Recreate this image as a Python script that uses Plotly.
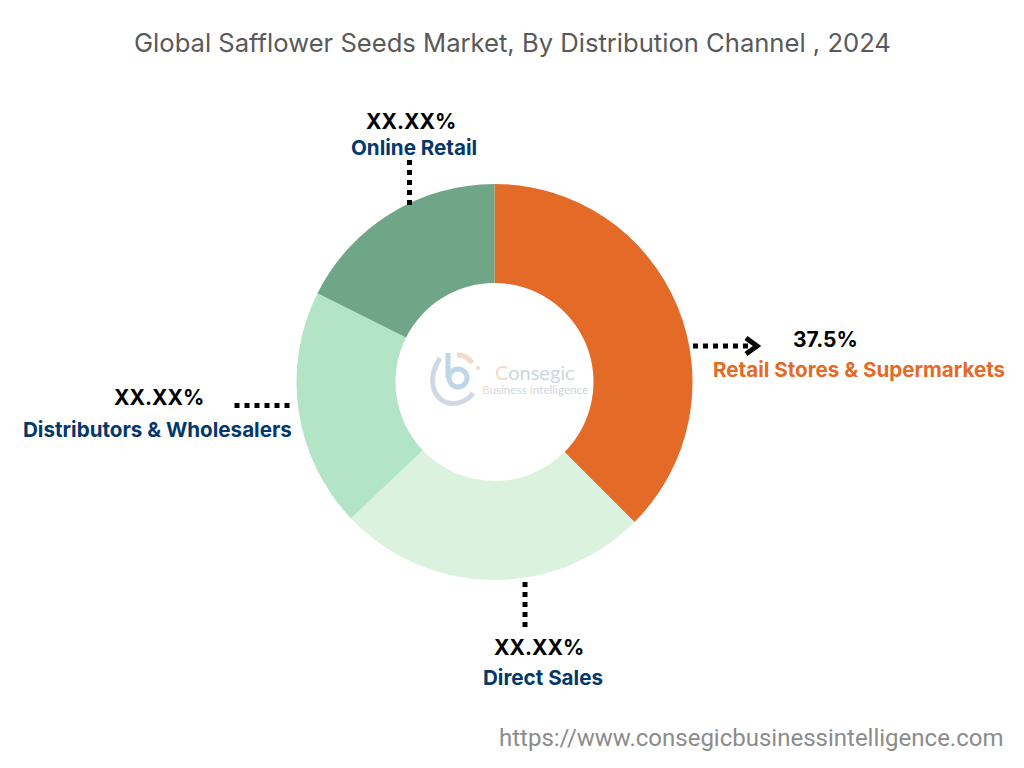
import plotly.graph_objects as go

channels = ["Retail Stores & Supermarkets", "Direct Sales", "Distributors & Wholesalers", "Online Retail"]
shares = [37.5, 25.4, 19.5, 17.6]
slice_colors = ["#E46A27", "#DBF2DE", "#B3E4C6", "#70A688"]
share_labels = ["37.5%", "XX.XX%", "XX.XX%", "XX.XX%"]

NAVY = "#03386B"
W, H = 1024, 768


def px(x):
    return x / W


def py(y):
    return 1 - y / H


def path(cmds):
    # cmds like [("M", 1, 2), ("C", 1, 2, 3, 4, 5, 6)] in picture pixels
    out = []
    for c in cmds:
        nums = c[1:]
        pts = [f"{px(nums[i])} {py(nums[i + 1])}" for i in range(0, len(nums), 2)]
        out.append(c[0] + " " + " ".join(pts))
    return " ".join(out)


def line(x0, y0, x1, y1, style):
    return dict(type="line", xref="paper", yref="paper",
                x0=px(x0), y0=py(y0), x1=px(x1), y1=py(y1), line=style)


def curve(cmds, color, width=5):
    return dict(type="path", xref="paper", yref="paper", path=path(cmds),
                line=dict(color=color, width=width))


def text(x, y, s, family, size, color):
    return dict(x=px(x), y=py(y), xref="paper", yref="paper", text=s, showarrow=False,
                xanchor="center", yanchor="middle",
                font=dict(family=family, size=size, color=color))


fig = go.Figure()

fig.add_trace(go.Pie(
    labels=channels,
    values=shares,
    sort=False,
    direction="clockwise",
    rotation=0,
    hole=0.5,
    marker=dict(colors=slice_colors, line=dict(width=0)),
    textinfo="none",
    showlegend=False,
    domain=dict(x=[296.5 / W, 692.5 / W], y=[1 - 580 / H, 1 - 184 / H]),
))

# label text: (share x, share y, name x, name y, name colour)
label_pos = [
    (825.5, 339, 858.5, 370, "#E46A27"),
    (539, 647, 542.5, 677, NAVY),
    (159, 397, 157.5, 429, NAVY),
    (411, 121, 414, 147, NAVY),
]
annotations = []
for name, share, (sx, sy, nx, ny, col) in zip(channels, share_labels, label_pos):
    annotations.append(text(sx, sy, f"<b>{share}</b>", "Inter", 21, "#000000"))
    annotations.append(text(nx, ny, f"<b>{name}</b>", "Inter", 20.6, col))

annotations += [
    text(512, 42, "Global Safflower Seeds Market, By Distribution Channel , 2024", "Inter", 25.6, "#595959"),
    text(751, 738, "https://www.consegicbusinessintelligence.com", "Roboto", 24, "#8C8C8C"),
    text(534.5, 372, "C<span style='color:#CDD6E2'>onsegic</span>", "Lato", 20, "#F5D9C9"),
    text(535, 389, "B<span style='color:#CDD6E2'>usiness </span>I<span style='color:#CDD6E2'>ntelligence</span>",
         "Lato", 11.7, "#F5D9C9"),
]

dotted = dict(color="#000000", width=5, dash="5px,5px")
shapes = [
    line(693, 346, 748, 346, dotted),
    line(525, 582, 525, 627.5, dotted),
    line(234.5, 405.5, 289.5, 405.5, dotted),
    line(409.5, 160, 409.5, 205, dotted),
    # arrow head
    curve([("M", 746, 338), ("L", 757, 346), ("L", 746, 354)], "#000000"),
    # watermark logo
    curve([("M", 440, 358), ("C", 427, 378, 432, 398, 448, 403), ("C", 457, 405, 468, 401, 473, 393)], "#CFD8E4"),
    curve([("M", 448, 353), ("L", 448, 378)], "#BFD6E8"),
    dict(type="circle", xref="paper", yref="paper", x0=px(449), y0=py(369), x1=px(467), y1=py(387),
         line=dict(color="#BFD6E8", width=5)),
    curve([("M", 457, 355), ("C", 463, 355, 469, 358, 472, 363)], "#F5D9C9"),
    dict(type="circle", xref="paper", yref="paper", x0=px(476), y0=py(366), x1=px(480), y1=py(370),
         fillcolor="#F5D9C9", line=dict(width=0)),
]

fig.update_layout(
    width=W,
    height=H,
    margin=dict(l=0, r=0, t=0, b=0),
    paper_bgcolor="#FFFFFF",
    annotations=annotations,
    shapes=shapes,
)

fig.write_html("out.html", config={"displayModeBar": False},
               post_script="document.body.style.margin = '0';")
